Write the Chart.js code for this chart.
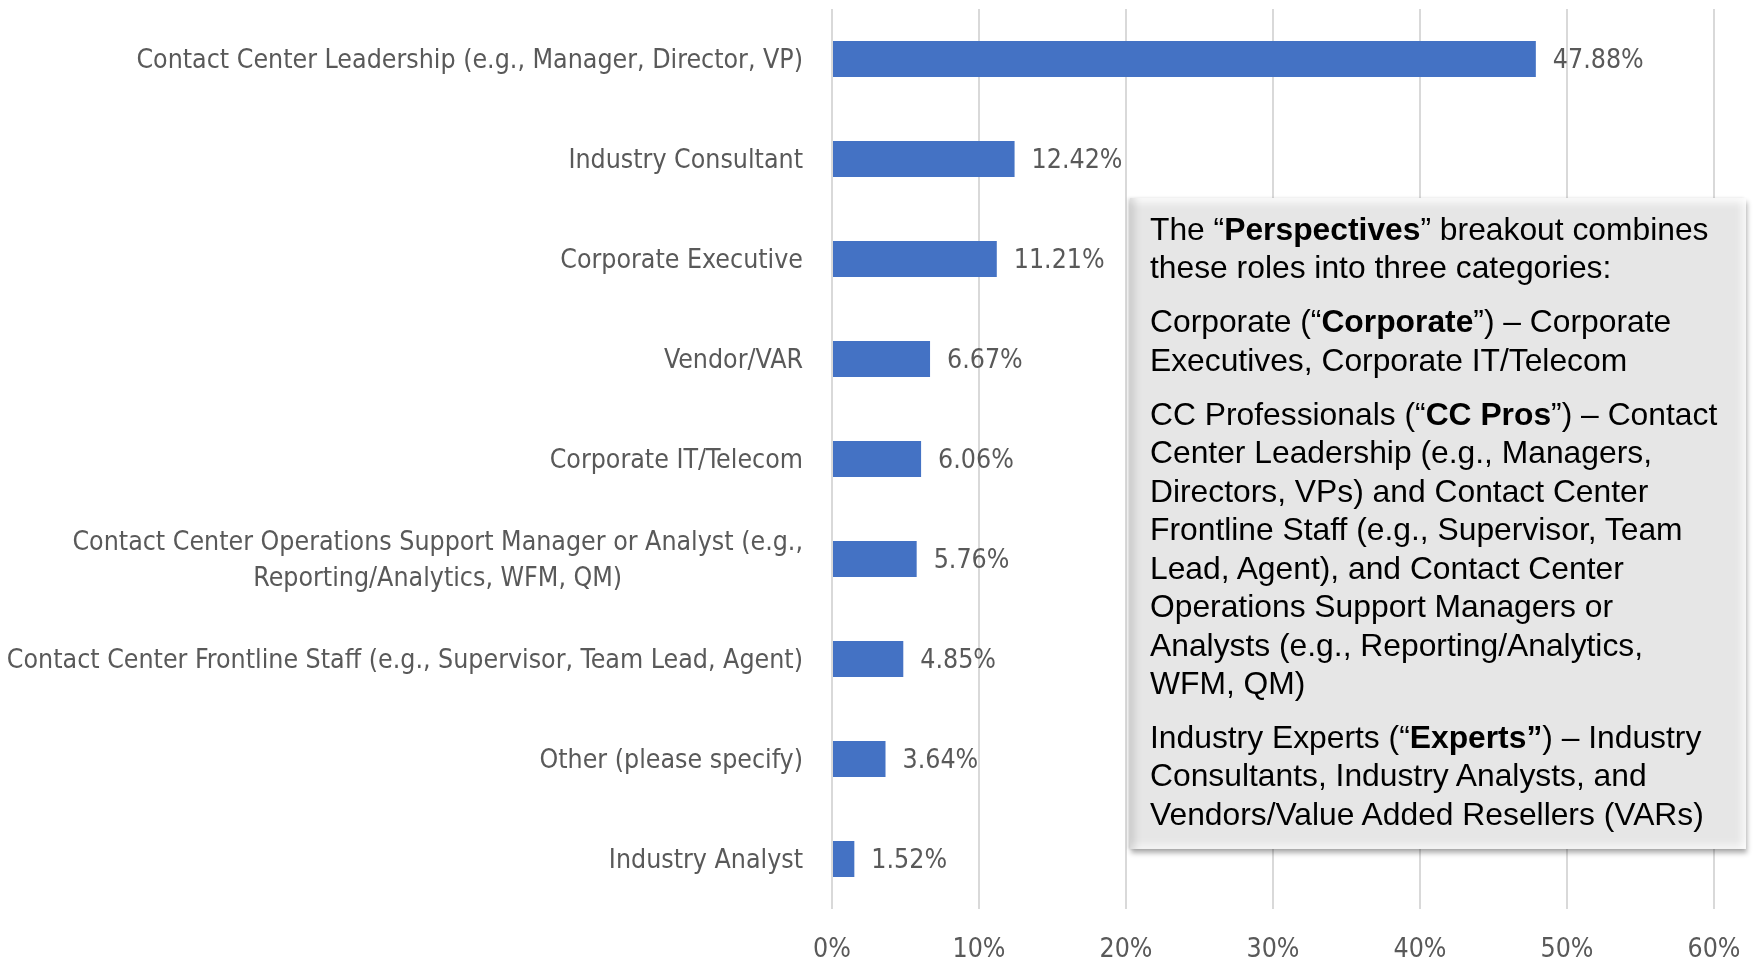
<!DOCTYPE html>
<html>
<head>
<meta charset="utf-8">
<script src="https://cdn.jsdelivr.net/npm/chart.js@4"></script>
<style>
  html, body { margin: 0; padding: 0; background: #fff; }
  #wrap { position: relative; width: 1759px; height: 962px; }
  #c { position: absolute; left: 0; top: 0; }
  #note {
    position: absolute; left: 1130px; top: 198px; width: 616px; height: 651px;
    box-sizing: border-box; padding: 12px 0 0 20px;
    background: #e6e6e6;
    font-family: "Liberation Sans", Arial, sans-serif; font-size: 31.8px; line-height: 38.45px;
    color: #000; white-space: nowrap;
    box-shadow: inset 10px 0 8px -6px rgba(0,0,0,0.13),
                inset 0 10px 8px -6px rgba(255,255,255,0.95),
                inset -10px 0 8px -6px rgba(255,255,255,0.75),
                inset 0 -10px 8px -6px rgba(255,255,255,0.7),
                1px 4px 5px rgba(0,0,0,0.32), -2px 0 3px rgba(0,0,0,0.12);
  }
  #note p { margin: 0 0 15.5px 0; }
</style>
</head>
<body>
<div id="wrap">
<canvas id="c" width="1759" height="962"></canvas>
<div id="note">
<p>The “<b>Perspectives</b>” breakout combines<br>these roles into three categories:</p>
<p>Corporate (“<b>Corporate</b>”) – Corporate<br>Executives, Corporate IT/Telecom</p>
<p>CC Professionals (“<b>CC Pros</b>”) – Contact<br>Center Leadership (e.g., Managers,<br>Directors, VPs) and Contact Center<br>Frontline Staff (e.g., Supervisor, Team<br>Lead, Agent), and Contact Center<br>Operations Support Managers or<br>Analysts (e.g., Reporting/Analytics,<br>WFM, QM)</p>
<p>Industry Experts (“<b>Experts”</b>) – Industry<br>Consultants, Industry Analysts, and<br>Vendors/Value Added Resellers (VARs)</p>
</div>
</div>
<script>
const categories = [
  ["Contact Center Leadership (e.g., Manager, Director, VP)"],
  ["Industry Consultant"],
  ["Corporate Executive"],
  ["Vendor/VAR"],
  ["Corporate IT/Telecom"],
  ["Contact Center Operations Support Manager or Analyst (e.g.,", "Reporting/Analytics, WFM, QM)"],
  ["Contact Center Frontline Staff (e.g., Supervisor, Team Lead, Agent)"],
  ["Other (please specify)"],
  ["Industry Analyst"]
];
const values = [47.88, 12.42, 11.21, 6.67, 6.06, 5.76, 4.85, 3.64, 1.52];
const xTicks = [0, 10, 20, 30, 40, 50, 60];

const FONT_FAMILY = '"Liberation Sans Narrow", "DejaVu Sans Condensed", sans-serif';
const LABEL_FONT = '26.5px ' + FONT_FAMILY;
const GREY = '#595959';

const catLabelPlugin = {
  id: 'catLabels',
  afterDraw(chart) {
    const ctx = chart.ctx;
    const y = chart.scales.y;
    const right = chart.chartArea.left - 29;
    ctx.save();
    ctx.font = LABEL_FONT;
    ctx.fillStyle = GREY;
    ctx.textBaseline = 'middle';
    ctx.textAlign = 'center';
    categories.forEach((lines, i) => {
      const cy = y.getPixelForTick(i) + 2;
      const maxW = Math.max(...lines.map(l => ctx.measureText(l).width));
      const cx = right - maxW / 2;
      const lh = 36;
      const y0 = cy - (lines.length - 1) * lh / 2;
      lines.forEach((l, j) => ctx.fillText(l, cx, y0 + j * lh));
    });
    ctx.restore();
  }
};

const valueLabelPlugin = {
  id: 'valLabels',
  afterDatasetsDraw(chart) {
    const ctx = chart.ctx;
    const meta = chart.getDatasetMeta(0);
    ctx.save();
    ctx.font = LABEL_FONT;
    ctx.fillStyle = GREY;
    ctx.textBaseline = 'middle';
    ctx.textAlign = 'left';
    meta.data.forEach((bar, i) => {
      ctx.fillText(values[i].toFixed(2) + '%', bar.x + 17, bar.y + 2);
    });
    ctx.restore();
  }
};

new Chart(document.getElementById('c'), {
  type: 'bar',
  data: {
    labels: categories,
    datasets: [{ data: values, backgroundColor: '#4472C4', barPercentage: 0.36, categoryPercentage: 1.0 }]
  },
  options: {
    indexAxis: 'y',
    responsive: false,
    animation: false,
    layout: { padding: { left: 0, right: 45, top: 9, bottom: 0 } },
    plugins: { legend: { display: false }, tooltip: { enabled: false } },
    scales: {
      x: {
        min: 0, max: 60,
        afterBuildTicks: s => { s.ticks = xTicks.map(v => ({ value: v })); },
        afterFit: s => { s.height = 53; s.paddingLeft = 0; s.paddingRight = 0; },
        grid: { color: '#d9d9d9', lineWidth: 2, drawTicks: false },
        border: { display: false },
        ticks: { padding: 25, color: GREY, font: { family: FONT_FAMILY, size: 26.5 }, callback: v => v + '%' }
      },
      y: {
        afterFit: s => { s.width = 832; },
        grid: { display: false },
        border: { display: false },
        ticks: { display: false }
      }
    }
  },
  plugins: [catLabelPlugin, valueLabelPlugin]
});
</script>
</body>
</html>
